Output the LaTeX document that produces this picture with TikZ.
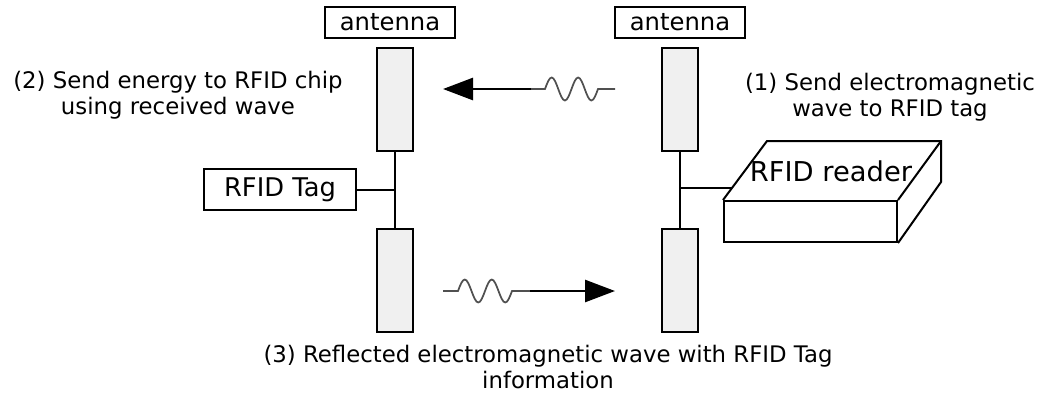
\documentclass[tikz,border=0pt]{standalone}
\usepackage{fontspec}
\setmainfont{DejaVu Sans}
\usetikzlibrary{arrows.meta,calc}
\definecolor{antfill}{HTML}{F0F0F0}
\definecolor{wavegray}{HTML}{505050}
\begin{document}
\begin{tikzpicture}[x=0.75pt,y=-0.75pt,
  labelbox/.style={draw,line width=1.5pt,inner sep=0pt,minimum width=97.5pt,minimum height=23.25pt,font=\fontsize{18.2}{21}\selectfont},
  antbar/.style={draw,line width=1.5pt,fill=antfill,inner sep=0pt,minimum width=27pt,minimum height=77.25pt},
  wire/.style={line width=1.5pt},
  wavey/.style={line width=1.3pt,wavegray},
  bigarrow/.style={line width=2pt,-{Triangle[length=22.5pt,width=16.5pt]}},
  note/.style={align=center,inner sep=0pt,font=\fontsize{17.1}{19.5}\selectfont}]
\useasboundingbox (0,0) rectangle (1048,394);

% antenna labels
\node[labelbox] (lant) at (390,22.5) {antenna};
\node[labelbox] (rant) at (680,22.5) {antenna};

% antenna elements
\node[antbar] (lt) at (395,99.5) {};
\node[antbar] (lb) at (395,280.5) {};
\node[antbar] (rt) at (680,99.5) {};
\node[antbar] (rb) at (680,280.5) {};

% tag
\node[draw,line width=1.5pt,inner sep=0pt,minimum width=114pt,minimum height=30.75pt,font=\fontsize{19.3}{22}\selectfont] (tag) at (280,189.5) {RFID Tag};
\draw[wire] (lt.south) -- (lb.north);
\draw[wire] (tag.east) -- (tag.east -| lt.south);

% reader
\node[draw,line width=1.5pt,inner sep=0pt,minimum width=129.75pt,minimum height=30.75pt] (reader) at (810.5,221.5) {};
\coordinate (rbl) at ($(reader.north west)+(44,-59)$);
\coordinate (rbr) at ($(reader.north east)+(43,-59)$);
\draw[line width=1.5pt,line join=miter] (reader.north west) -- (rbl) -- (rbr) -- ($(rbr)+(0,41)$) -- (reader.south east);
\draw[line width=1.5pt] (reader.north east) -- (rbr);
\node[inner sep=0pt,font=\fontsize{20.5}{23}\selectfont] (readertext) at (831,171.5) {RFID reader};
\coordinate (rjoin) at ($(reader.north west)!0.2!(rbl)$);
\draw[wire] (rt.south) -- (rb.north);
\draw[wire] (rjoin -| rt.south) -- (rjoin);

% top wave: reader -> tag
\coordinate (w1start) at (615,89);
\coordinate (w1end) at (531,89);
\coordinate (w1tip) at (443,89);
\draw[wavey] (w1start) -- (598,89) sin (591.375,100.5) cos (584.75,89) sin (578.125,77.5) cos (571.5,89)
  sin (564.875,100.5) cos (558.25,89) sin (551.625,77.5) cos (545,89) -- (w1end);
\draw[bigarrow] (w1end) -- (w1tip);

% bottom wave: tag -> reader
\coordinate (w2start) at (443,291);
\coordinate (w2end) at (530,291);
\coordinate (w2tip) at (615,291);
\draw[wavey] (w2start) -- (458,291) sin (464.75,279.5) cos (471.5,291) sin (478.25,302.5) cos (485,291)
  sin (491.75,279.5) cos (498.5,291) sin (505.25,302.5) cos (512,291) -- (w2end);
\draw[bigarrow] (w2end) -- (w2tip);

% notes
\node[note] (n2) at (178,95) {(2) Send energy to RFID chip\\using received wave};
\node[note] (n1) at (890,97) {(1) Send electromagnetic\\wave to RFID tag};
\node[note] (n3) at (548,367) {(3) Reflected electromagnetic wave with RFID Tag\\information};
\end{tikzpicture}
\end{document}
